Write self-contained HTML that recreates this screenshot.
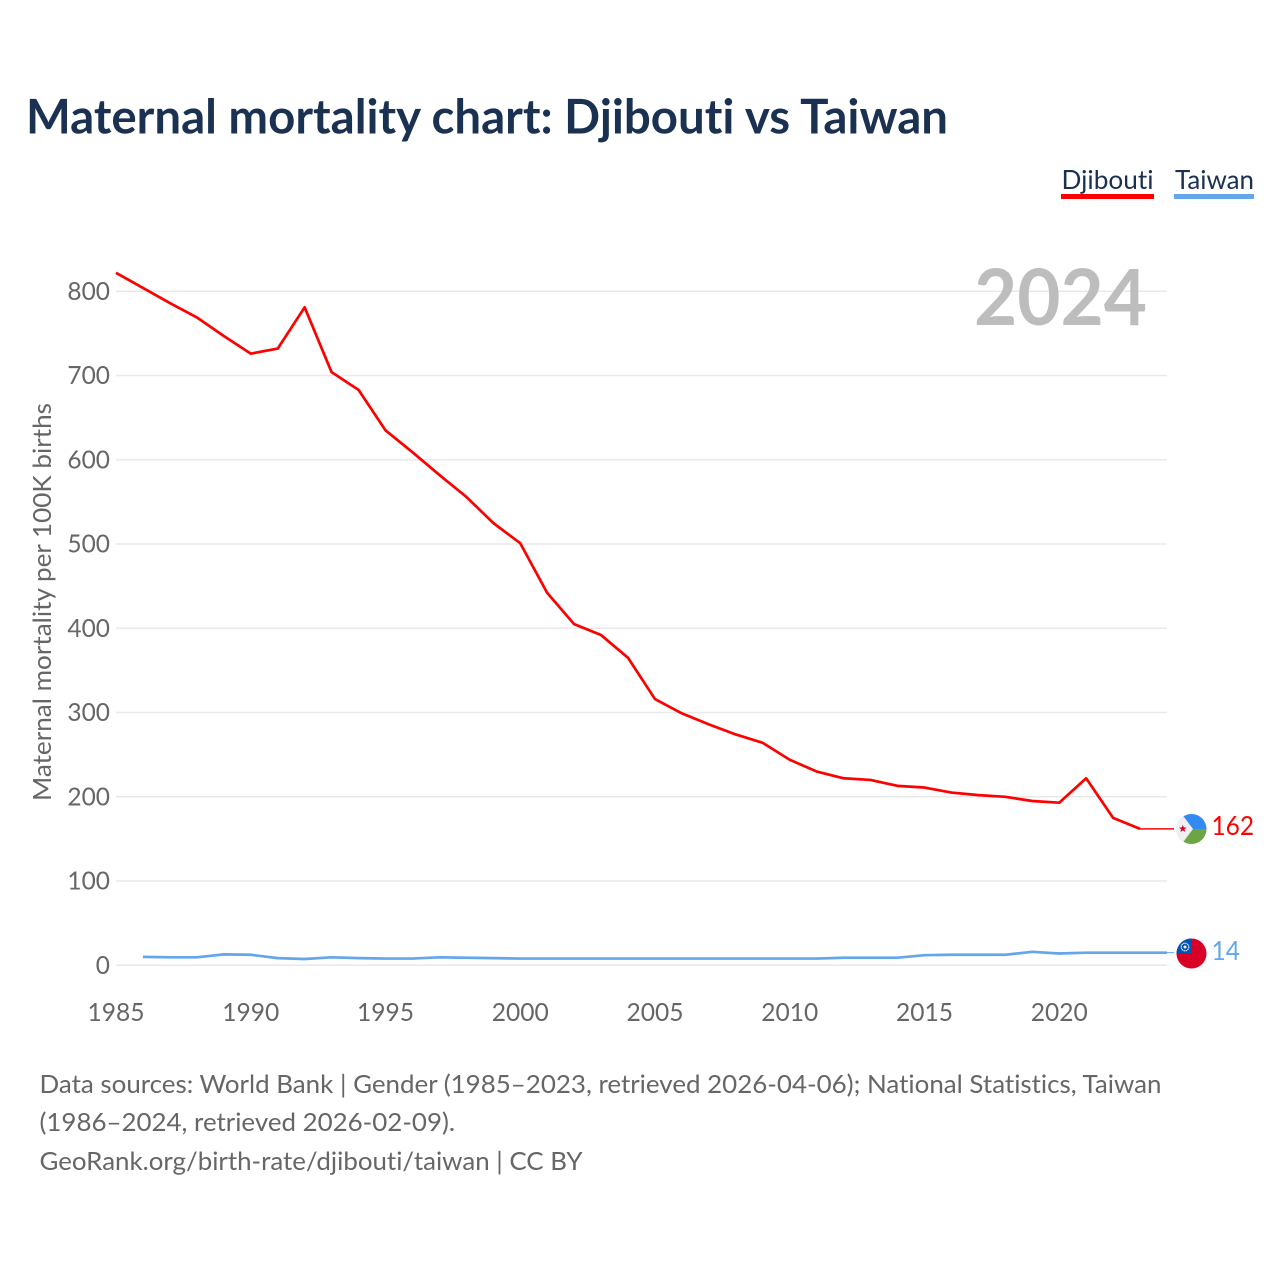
<!DOCTYPE html>
<html lang="en">
<head>
<meta charset="utf-8">
<title>Maternal mortality chart: Djibouti vs Taiwan</title>
<style>
html,body{margin:0;padding:0;background:#fff;}
svg{display:block;}
text{font-family:"Lato","Carlito","Liberation Sans",sans-serif;font-variant-ligatures:none;}
</style>
</head>
<body>
<svg id="chart" xmlns="http://www.w3.org/2000/svg" width="1280" height="1280" viewBox="0 0 1280 1280">
  <rect x="0" y="0" width="1280" height="1280" fill="#ffffff"/>
  <text x="26" y="133.5" font-size="47.5" font-weight="700" fill="#1a3152" textLength="922" lengthAdjust="spacingAndGlyphs">Maternal mortality chart: Djibouti vs Taiwan</text>

  <g>
    <text x="1061.5" y="189" font-size="26.5" fill="#1a3152" textLength="92" lengthAdjust="spacingAndGlyphs">Djibouti</text>
    <rect x="1061" y="194" width="93" height="5" fill="#ff0000"/>
  </g>
  <g>
    <text x="1175" y="189" font-size="26.5" fill="#1a3152" textLength="79" lengthAdjust="spacingAndGlyphs">Taiwan</text>
    <rect x="1174" y="194" width="80" height="5" fill="#63a6ec"/>
  </g>

  <g id="grid"></g>
  <g id="yticks"></g>
  <g id="xticks"></g>

  <text transform="translate(51,801) rotate(-90)" x="0" y="0" font-size="25.5" fill="#666666" textLength="398" lengthAdjust="spacingAndGlyphs">Maternal mortality per 100K births</text>
  <text x="974" y="325" font-size="78" font-weight="700" fill="#bdbdbd" textLength="173" lengthAdjust="spacingAndGlyphs">2024</text>

  <g id="series"></g>

  <g>
    <clipPath id="clip-dj"><circle cx="1191.5" cy="829" r="15"/></clipPath>
    <g clip-path="url(#clip-dj)">
      <rect x="1176" y="813" width="31" height="16" fill="#338af3"/>
      <rect x="1176" y="829" width="31" height="16" fill="#6da544"/>
      <polygon points="1176,809 1178,809 1193,829 1178,849 1176,849" fill="#f0f0f0"/>
    </g>
    <polygon points="1182.8,824.8 1183.8,827.5 1186.6,827.5 1184.4,829.3 1185.2,832 1182.8,830.4 1180.4,832 1181.2,829.3 1179,827.5 1181.8,827.5" fill="#d80027"/>
  </g>
  <g>
    <clipPath id="clip-tw"><circle cx="1191.5" cy="953.5" r="15"/></clipPath>
    <g clip-path="url(#clip-tw)">
      <rect x="1176" y="938" width="31" height="31" fill="#d80027"/>
      <rect x="1176" y="938" width="16" height="16" fill="#0052b4"/>
    </g>
    <circle cx="1185" cy="947" r="3.8" fill="none" stroke="#f0f0f0" stroke-width="1.2" stroke-dasharray="1.4 0.6"/>
    <circle cx="1185" cy="947" r="1.5" fill="#f0f0f0"/>
  </g>

  <text x="1211.5" y="835" font-size="26" fill="#ff0000" textLength="42.5" lengthAdjust="spacingAndGlyphs">162</text>
  <text x="1211.5" y="960" font-size="26" fill="#63a6ec" textLength="28.5" lengthAdjust="spacingAndGlyphs">14</text>

  <g>
    <text x="39.5" y="1093" font-size="25.6" fill="#666666" textLength="1122" lengthAdjust="spacingAndGlyphs">Data sources: World Bank | Gender (1985–2023, retrieved 2026-04-06); National Statistics, Taiwan</text>
    <text x="39.5" y="1131" font-size="25.6" fill="#666666" textLength="415.5" lengthAdjust="spacingAndGlyphs">(1986–2024, retrieved 2026-02-09).</text>
    <text x="39.5" y="1170" font-size="25.6" fill="#666666" textLength="543" lengthAdjust="spacingAndGlyphs">GeoRank.org/birth-rate/djibouti/taiwan | CC BY</text>
  </g>
</svg>
<script>
var yTickValues = [0, 100, 200, 300, 400, 500, 600, 700, 800];
var xTickYears = [1985, 1990, 1995, 2000, 2005, 2010, 2015, 2020];
var djiboutiStartYear = 1985;
var djiboutiValues = [822, 804, 786, 769, 747, 726, 732, 781, 704, 683, 635, 609, 582, 556, 525, 501, 442, 405, 392, 365, 316, 299, 286, 274, 264, 244, 230, 222, 220, 213, 211, 205, 202, 200, 195, 193, 222, 175, 162];
var taiwanStartYear = 1986;
var taiwanValues = [10, 9.5, 9.5, 13, 12.5, 8.5, 7.5, 9.5, 8.5, 8, 8, 9.5, 9, 8.5, 8, 8, 8, 8, 8, 8, 8, 8, 8, 8, 8, 8, 9, 9, 9, 12, 12.5, 12.5, 12.5, 16, 14, 15, 15, 15, 15];
var finalYear = 2024;

function xScale(year) { return 116 + (year - 1985) * (1167 - 116) / 39; }
function yScale(value) { return 965.3 - value * 0.8425; }

var svgNS = 'http://www.w3.org/2000/svg';
function make(tag, attrs, parent) {
  var el = document.createElementNS(svgNS, tag);
  for (var k in attrs) { el.setAttribute(k, attrs[k]); }
  parent.appendChild(el);
  return el;
}

var gridGroup = document.getElementById('grid');
var yTickGroup = document.getElementById('yticks');
var xTickGroup = document.getElementById('xticks');
var seriesGroup = document.getElementById('series');

yTickValues.forEach(function (v) {
  var line = make('line', { x1: 116, x2: 1167, y1: yScale(v), y2: yScale(v), stroke: '#e9e9e9', 'stroke-width': 1.5 }, gridGroup);
  
  
  var label = make('text', { x: 110, y: yScale(v) + 8.5, 'text-anchor': 'end', 'font-size': 25.6, fill: '#666666', textLength: String(v).length * 14.2, lengthAdjust: 'spacingAndGlyphs' }, yTickGroup);
  
  
  label.textContent = v;
});

xTickYears.forEach(function (yr) {
  var label = make('text', { x: xScale(yr), y: 1021, 'text-anchor': 'middle', 'font-size': 25.6, fill: '#666666', textLength: 57, lengthAdjust: 'spacingAndGlyphs' }, xTickGroup);
  
  
  label.textContent = yr;
});

function pointsFor(values, startYear) {
  return values.map(function (v, i) { return xScale(startYear + i) + ',' + yScale(v); }).join(' ');
}

var taiwanLine = make('polyline', { points: pointsFor(taiwanValues, taiwanStartYear), fill: 'none', stroke: '#63a6ec', 'stroke-width': 2.7, 'stroke-linejoin': 'round' }, seriesGroup);



var taiwanLast = taiwanValues[taiwanValues.length - 1];
var taiwanLastYear = taiwanStartYear + taiwanValues.length - 1;
var taiwanLeader = make('line', { x1: xScale(taiwanLastYear), x2: 1174, y1: yScale(taiwanLast), y2: yScale(taiwanLast), stroke: '#63a6ec', 'stroke-width': 1 }, seriesGroup);



var djiboutiLine = make('polyline', { points: pointsFor(djiboutiValues, djiboutiStartYear), fill: 'none', stroke: '#ff0000', 'stroke-width': 2.7, 'stroke-linejoin': 'round' }, seriesGroup);



var djiboutiLast = djiboutiValues[djiboutiValues.length - 1];
var djiboutiLastYear = djiboutiStartYear + djiboutiValues.length - 1;
var djiboutiLeader = make('line', { x1: xScale(djiboutiLastYear), x2: 1174, y1: yScale(djiboutiLast), y2: yScale(djiboutiLast), stroke: '#ff0000', 'stroke-width': 1.5 }, seriesGroup);


</script>
</body>
</html>
